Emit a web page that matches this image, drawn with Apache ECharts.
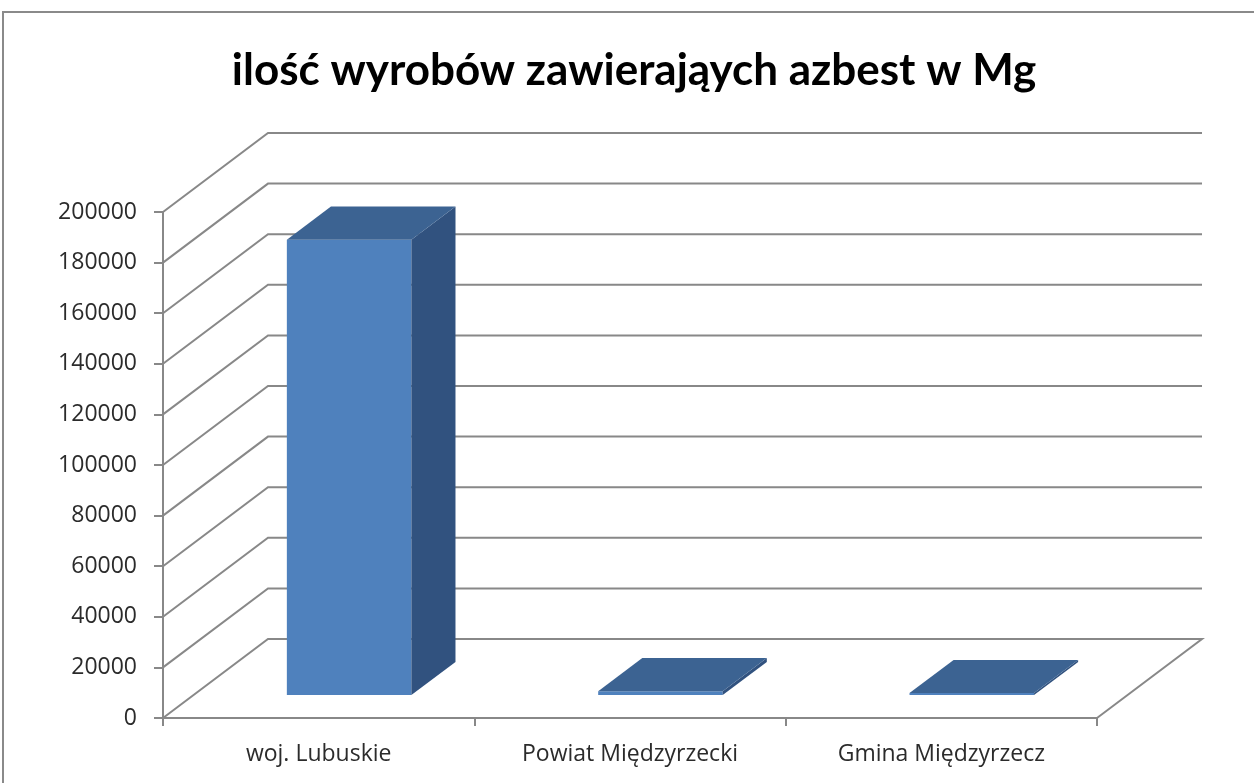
<!DOCTYPE html>
<html lang="pl" style="height: 100%">
  <head>
    <meta charset="utf-8" />
    <title>ilość wyrobów zawierających azbest</title>
  </head>
  <body style="height: 100%; margin: 0; background: #ffffff">
    <div id="container" style="width: 1254px; height: 783px"></div>

    <script
      type="text/javascript"
      src="https://fastly.jsdelivr.net/npm/echarts@6/dist/echarts.min.js"
    ></script>

    <script type="text/javascript">
      var categories = ["woj. Lubuskie", "Powiat Międzyrzecki", "Gmina Międzyrzecz"];
      var values = [180000, 1500, 800];
      var yTicks = [0, 20000, 40000, 60000, 80000, 100000, 120000, 140000, 160000, 180000, 200000];

      // 3D look: how far the back wall sits from the front plane (px)
      var DEPTH = [105, -79];
      var BAR_FRONT = 0.29; // bar front / back as a share of the depth
      var BAR_BACK = 0.71;
      var BAR_WIDTH = 0.4; // share of category band
      var LINE = "#888888";

      var dom = document.getElementById("container");
      var myChart = echarts.init(dom, null, { renderer: "canvas" });

      // back wall grid lines, side wall diagonals and floor
      function renderWall(params, api) {
        var cs = params.coordSys;
        var v = api.value(1);
        var y = api.coord([0, v])[1];
        var x0 = cs.x;
        var x1 = cs.x + cs.width;
        var pts = [
          [x0, y],
          [x0 + DEPTH[0], y + DEPTH[1]],
          [x1 + DEPTH[0], y + DEPTH[1]],
        ];
        if (v === 0) pts.push([x1, y]);
        return {
          type: "polyline",
          shape: { points: pts },
          style: { stroke: LINE, lineWidth: 2, fill: null },
        };
      }

      function renderBar(params, api) {
        var i = api.value(0);
        var v = api.value(1);
        var top = api.coord([i, v]);
        var base = api.coord([i, 0]);
        var w = api.size([1, 0])[0] * BAR_WIDTH;
        var fx = DEPTH[0] * BAR_FRONT, fy = DEPTH[1] * BAR_FRONT;
        var ddx = DEPTH[0] * (BAR_BACK - BAR_FRONT);
        var ddy = DEPTH[1] * (BAR_BACK - BAR_FRONT);
        var xl = top[0] - w / 2 + fx;
        var xr = top[0] + w / 2 + fx;
        var yt = top[1] + fy;
        var yb = base[1] + fy;
        return {
          type: "group",
          children: [
            {
              type: "polygon",
              shape: { points: [[xl, yt], [xr, yt], [xr, yb], [xl, yb]] },
              style: { fill: "#4f81bd" },
            },
            {
              type: "polygon",
              shape: { points: [[xr, yt], [xr + ddx, yt + ddy], [xr + ddx, yb + ddy], [xr, yb]] },
              style: { fill: "#31527f" },
            },
            {
              type: "polygon",
              shape: { points: [[xl, yt], [xl + ddx, yt + ddy], [xr + ddx, yt + ddy], [xr, yt]] },
              style: { fill: "#3c6392" },
            },
          ],
        };
      }

      var option = {
        animation: false,
        backgroundColor: "#ffffff",
        graphic: [
          {
            type: "rect",
            shape: { x: 3, y: 12, width: 1400, height: 900 },
            style: { fill: null, stroke: "#8a8a8a", lineWidth: 2 },
            silent: true,
          },
          {
            type: "text",
            x: 634,
            y: 71,
            style: {
              text: "ilość wyrobów zawierająych azbest w Mg",
              font: "bold 44px Lato",
              fill: "#000000",
              align: "center",
              verticalAlign: "middle",
            },
          },
        ],
        grid: { left: 163, right: 157, top: 212, bottom: 65 },
        xAxis: {
          type: "category",
          data: categories,
          axisLine: { lineStyle: { color: LINE, width: 2 } },
          axisTick: { show: true, length: 8, lineStyle: { color: LINE, width: 2 } },
          axisLabel: {
            margin: 25,
            color: "#2b2b2b",
            fontFamily: "Open Sans",
            fontSize: 23,
          },
          splitLine: { show: false },
        },
        yAxis: {
          type: "value",
          min: 0,
          max: yTicks[yTicks.length - 1],
          interval: yTicks[1] - yTicks[0],
          axisLine: { show: true, lineStyle: { color: LINE, width: 2 } },
          axisTick: { show: true, length: 9, lineStyle: { color: LINE, width: 2 } },
          axisLabel: {
            margin: 26,
            color: "#2b2b2b",
            fontFamily: "Open Sans",
            fontSize: 23,
            formatter: function (v) {
              return String(v);
            },
          },
          splitLine: { show: false },
        },
        series: [
          {
            type: "custom",
            name: "walls",
            clip: false,
            silent: true,
            renderItem: renderWall,
            encode: { x: 0, y: 1 },
            data: yTicks.map(function (v) {
              return [0, v];
            }),
            z: 1,
          },
          {
            type: "custom",
            name: "azbest",
            clip: false,
            renderItem: renderBar,
            encode: { x: 0, y: 1 },
            data: values.map(function (v, i) {
              return [i, v];
            }),
            z: 3,
          },
        ],
      };

      myChart.setOption(option);
      window.addEventListener("resize", myChart.resize);
    </script>
  </body>
</html>
